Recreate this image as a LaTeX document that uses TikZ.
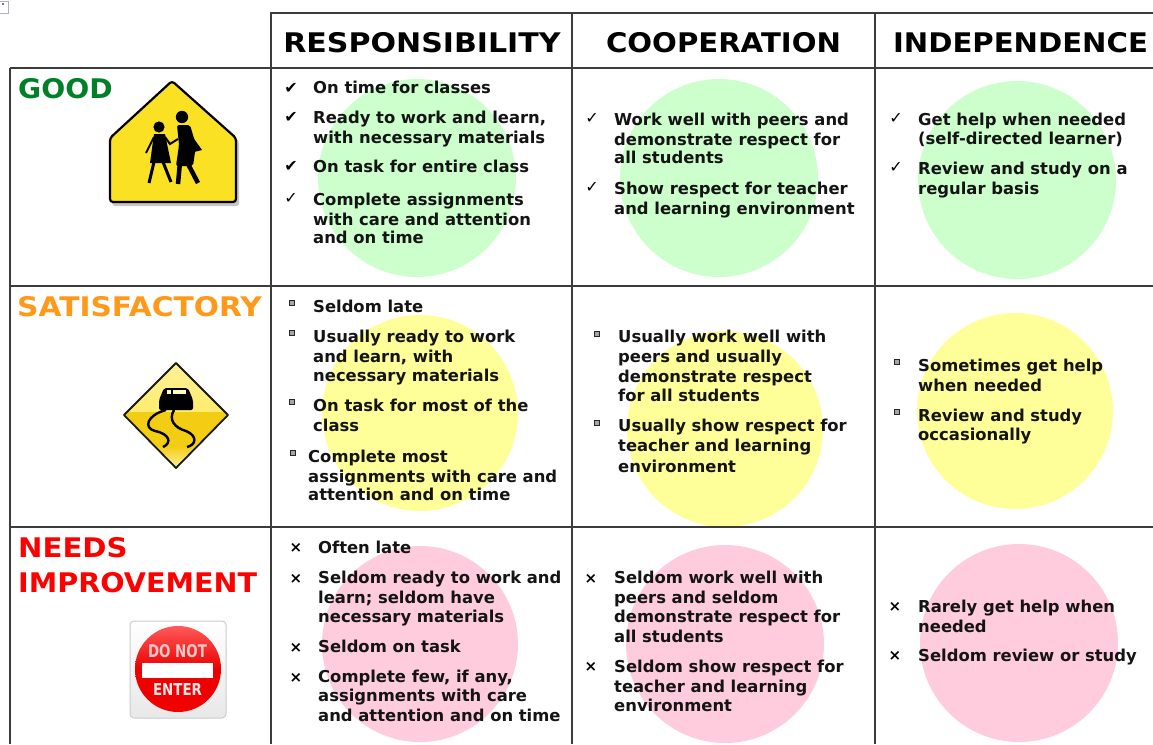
\documentclass[tikz,border=0pt]{standalone}
\usepackage{graphicx}
\usepackage{fontspec}
\setmainfont{DejaVu Sans}
\usetikzlibrary{shapes.geometric}
\definecolor{cgreen}{RGB}{204,255,204}
\definecolor{cyellow}{RGB}{255,255,153}
\definecolor{cpink}{RGB}{255,204,221}
\definecolor{sgreen}{RGB}{0,128,40}
\definecolor{sorange}{RGB}{255,153,25}
\definecolor{signy}{RGB}{250,225,35}
\definecolor{slipl}{RGB}{255,236,110}
\definecolor{slipd}{RGB}{242,205,20}
\definecolor{gridc}{RGB}{60,60,60}
\newcounter{tn}
\tikzset{
  x=1pt,y=-1pt,
  gridline/.style={draw=gridc,line width=1.6pt},
  txt/.style={inner sep=0pt,anchor=base west,font=\fontsize{16.4}{16.4}\bfseries\selectfont,text=black!92},
  head/.style={inner sep=0pt,anchor=base,font=\fontsize{27}{27}\bfseries\selectfont,text=black},
  rowh/.style={inner sep=0pt,anchor=base west,font=\fontsize{27}{27}\bfseries\selectfont},
  mk/.style={inner sep=0pt,font=\fontsize{16}{16}\selectfont,text=black}
}
\newcommand\tl[3]{\stepcounter{tn}\node[txt] (t\arabic{tn}) at (#1,#2) {#3};}
\newcommand\ck[2]{\stepcounter{tn}\node[mk] (m\arabic{tn}) at (#1,#2) {✓};}
\newcommand\cb[2]{\stepcounter{tn}\node[mk] (m\arabic{tn}) at (#1,#2) {✔};}
\newcommand\sq[2]{\stepcounter{tn}\node[mk,draw=black!85,fill=gray!70,line width=1.2pt,minimum size=5pt] (m\arabic{tn}) at (#1,#2) {};}
\newcommand\xx[2]{\stepcounter{tn}\node[mk] (m\arabic{tn}) at (#1,#2) {\fontsize{15}{15}\bfseries ×};}
\begin{document}
\begin{tikzpicture}
\useasboundingbox (0,0) rectangle (1153,744);
\fill[white] (0,0) rectangle (1153,744);
% circles
\fill[cgreen] (417,178) circle (99);
\fill[cgreen] (719,178) circle (99);
\fill[cgreen] (1017,180) circle (99);
\fill[cyellow] (420,413) circle (98);
\fill[cyellow] (725,429) circle (98);
\fill[cyellow] (1015,411) circle (98);
\fill[cpink] (420,644) circle (98);
\fill[cpink] (725,644) circle (99);
\fill[cpink] (1019,643) circle (99);
% corner mark
\draw[gray!60,line width=.8pt] (0,1) -- (8,1) -- (8,13) -- (0,13);
\fill[blue!60] (2,3) rectangle (4,5);
% grid
\coordinate (gl1) at (10,68); \coordinate (gr1) at (1153,68);
\coordinate (gl2) at (10,286); \coordinate (gr2) at (1153,286);
\coordinate (gl3) at (10,527); \coordinate (gr3) at (1153,527);
\draw[gridline] (271,744) -- (271,13) -- (1153,13);
\draw[gridline] (gl1) -- (gr1);
\draw[gridline] (gl2) -- (gr2);
\draw[gridline] (gl3) -- (gr3);
\draw[gridline] (10,68) -- (10,744);
\draw[gridline] (572,13) -- (572,744);
\draw[gridline] (875,13) -- (875,744);
% heads
\node[head] (h1) at (422,52) {\scalebox{1.112}[1]{RESPONSIBILITY}};
\node[head] (h2) at (723.5,52) {\scalebox{1.08}[1]{COOPERATION}};
\node[head] (h3) at (1020.5,52) {\scalebox{1.08}[1]{INDEPENDENCE}};
% row heads
\node[rowh,text=sgreen] (r1) at (18,98) {\scalebox{1.045}[1]{GOOD}};
\node[rowh,text=sorange] (r2) at (17,316) {\scalebox{1.10}[1]{SATISFACTORY}};
\node[rowh,text=red] (r3a) at (18,557) {\scalebox{1.08}[1]{NEEDS}};
\node[rowh,text=red] (r3b) at (18,592) {\scalebox{1.06}[1]{IMPROVEMENT}};
% school sign
\fill[gray!45,rounded corners=3pt] (174,83) -- (239,141) -- (239,206) -- (112,206) -- (112,141) -- cycle;
\draw[fill=signy,draw=black,line width=2.2pt,rounded corners=3pt] (172,81) -- (236,138) -- (236,202) -- (110,202) -- (110,138) -- cycle;
% figures
\fill (159,127) circle (5.6);
\fill (182,117) circle (6.2);
\fill (154,134) -- (165,134) -- (171,163) -- (150,163) -- cycle;
\draw[line width=3pt] (154,162) -- (149,183);
\draw[line width=3pt] (163,162) -- (171,182);
\draw[line width=2pt] (154,137) -- (146,153);
\draw[line width=2pt] (165,137) -- (170,144) -- (178,139);
\fill[rounded corners=2pt] (177,125) -- (190,125) -- (196,145) -- (193,166) -- (176,166) -- (179,145) -- cycle;
\draw[line width=4.5pt] (180,162) -- (178,184);
\draw[line width=4.5pt] (187,162) -- (198,183);
\fill (192,136) -- (202,150) -- (190,153) -- cycle;
% slippery sign
\begin{scope}
\clip (176,363) -- (228,415) -- (176,468) -- (124,415) -- cycle;
\shade[top color=slipl!70!white,bottom color=slipl] (120,360) rectangle (232,412);
\fill[slipd] (120,412) rectangle (232,446);
\shade[top color=slipd,bottom color=slipl!60!white] (120,446) rectangle (232,470);
\end{scope}
\draw[black!90,line width=1.8pt,line join=round] (176,363) -- (228,415) -- (176,468) -- (124,415) -- cycle;
\fill[rounded corners=2pt] (159,400) -- (164,388) -- (188,388) -- (193,400) -- (193,410) -- (159,410) -- cycle;
\fill[white!75!yellow] (167,390) rectangle (171,394);
\fill[white!75!yellow] (173,390) rectangle (186,394);
\draw[line width=2.4pt] (166,410) .. controls (147,415) and (143,428) .. (155,431) .. controls (170,434) and (172,443) .. (163,447);
\draw[line width=2.4pt] (174,410) .. controls (168,420) and (175,428) .. (186,431) .. controls (198,436) and (196,445) .. (187,447);
% do not enter
\draw[rounded corners=4pt,draw=gray!40,top color=white,bottom color=gray!18,line width=1pt] (130,621) rectangle (226,718);
\shade[top color=red!65!white,bottom color=red!95!black,middle color=red!92!black] (178,669) circle (43);
\fill[white] (142,663) rectangle (213,678);
\node[inner sep=0pt,font=\bfseries,text=white!78!red] (dn) at (177.5,651) {\resizebox{59pt}{13pt}{DO NOT}};
\node[inner sep=0pt,font=\bfseries,text=white!90!red] (en) at (177.5,689) {\resizebox{49pt}{12pt}{ENTER}};
% col 1 row 1
\cb{291}{88}\tl{313}{93}{On time for classes}
\cb{291}{117}\tl{313}{123}{Ready to work and learn,}\tl{313}{143}{with necessary materials}
\cb{291}{166}\tl{313}{172}{On task for entire class}
\ck{291}{198}\tl{313}{205}{Complete assignments}\tl{313}{225}{with care and attention}\tl{313}{243}{and on time}
% col 2 row 1
\ck{592}{118}\tl{614}{125}{Work well with peers and}\tl{614}{145}{demonstrate respect for}\tl{614}{163}{all students}
\ck{592}{187}\tl{614}{194}{Show respect for teacher}\tl{614}{214}{and learning environment}
% col 3 row 1
\ck{896}{118}\tl{918}{125}{Get help when needed}\tl{918}{144}{(self-directed learner)}
\ck{896}{167}\tl{918}{174}{Review and study on a}\tl{918}{194}{regular basis}
% col 1 row 2
\sq{292}{303}\tl{313}{312}{Seldom late}
\sq{292}{333}\tl{313}{342}{Usually ready to work}\tl{313}{362}{and learn, with}\tl{313}{381}{necessary materials}
\sq{292}{402}\tl{313}{411}{On task for most of the}\tl{313}{431}{class}
\sq{293}{453}\tl{308}{462}{Complete most}\tl{308}{482}{assignments with care and}\tl{308}{500}{attention and on time}
% col 2 row 2
\sq{597}{334}\tl{618}{342}{Usually work well with}\tl{618}{362}{peers and usually}\tl{618}{382}{demonstrate respect}\tl{618}{401}{for all students}
\sq{597}{423}\tl{618}{431}{Usually show respect for}\tl{618}{451}{teacher and learning}\tl{618}{472}{environment}
% col 3 row 2
\sq{897}{362}\tl{918}{371}{Sometimes get help}\tl{918}{391}{when needed}
\sq{897}{412}\tl{918}{421}{Review and study}\tl{918}{440}{occasionally}
% col 1 row 3
\xx{296}{548}\tl{318}{553}{Often late}
\xx{296}{579}\tl{318}{583}{Seldom ready to work and}\tl{318}{603}{learn; seldom have}\tl{318}{622}{necessary materials}
\xx{296}{648}\tl{318}{652}{Seldom on task}
\xx{296}{678}\tl{318}{682}{Complete few, if any,}\tl{318}{701}{assignments with care}\tl{318}{721}{and attention and on time}
% col 2 row 3
\xx{591}{579}\tl{614}{583}{Seldom work well with}\tl{614}{603}{peers and seldom}\tl{614}{622}{demonstrate respect for}\tl{614}{642}{all students}
\xx{591}{667}\tl{614}{672}{Seldom show respect for}\tl{614}{692}{teacher and learning}\tl{614}{711}{environment}
% col 3 row 3
\xx{895}{607}\tl{918}{612}{Rarely get help when}\tl{918}{632}{needed}
\xx{895}{656}\tl{918}{661}{Seldom review or study}
\end{tikzpicture}
\end{document}
